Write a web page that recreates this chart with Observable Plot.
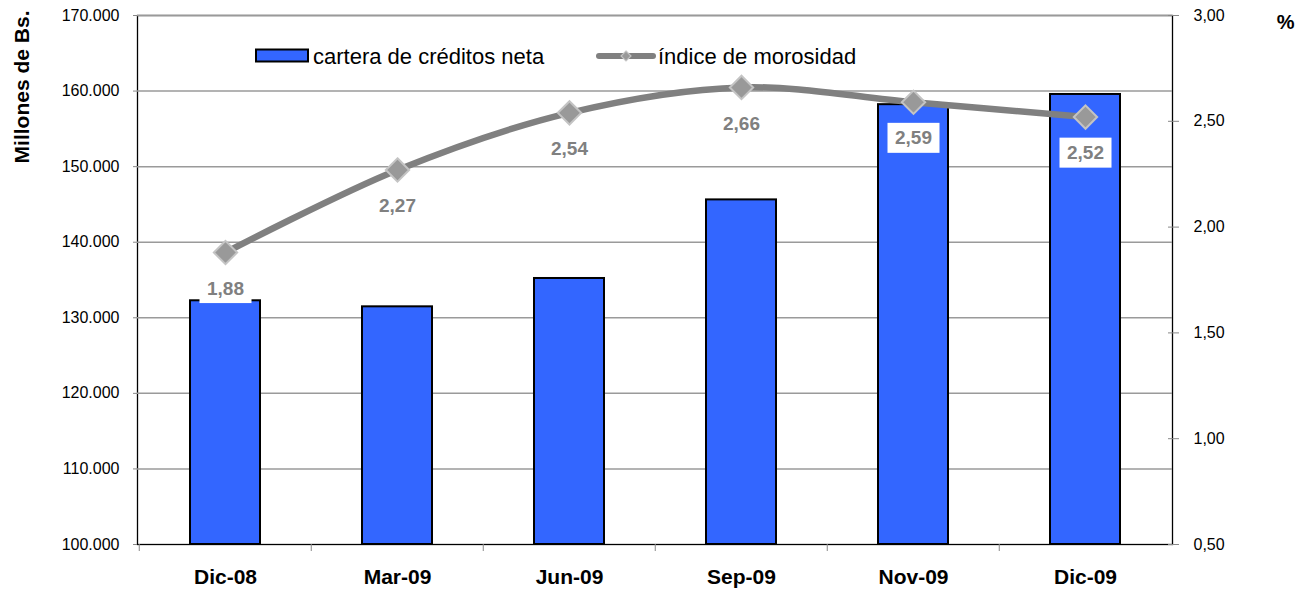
<!DOCTYPE html>
<html>
<head>
<meta charset="utf-8">
<script src="https://cdn.jsdelivr.net/npm/d3@7"></script>
<script src="https://cdn.jsdelivr.net/npm/@observablehq/plot@0.6"></script>
<style>
  html, body { margin: 0; padding: 0; background: #fff; }
  #wrap { position: relative; width: 1308px; height: 590px; font-family: "Liberation Sans", Arial, sans-serif; }
  .leg { position: absolute; font-size: 22px; color: #000; white-space: nowrap; line-height: 1; }
</style>
</head>
<body>
<div id="wrap"></div>
<script>
// ---- data ----
const periods = ["Dic-08", "Mar-09", "Jun-09", "Sep-09", "Nov-09", "Dic-09"];
const cartera = [132250, 131450, 135200, 145600, 158200, 159550];
const morosidad = [1.88, 2.27, 2.54, 2.66, 2.59, 2.52];
const leftTicks = [100000, 110000, 120000, 130000, 140000, 150000, 160000, 170000];
const rightTicks = [0.5, 1.0, 1.5, 2.0, 2.5, 3.0];
const seriesNames = ["cartera de créditos neta", "índice de morosidad"];

// secondary axis mapping (0,50–3,00 onto 100.000–170.000)
const toLeft = v => 100000 + (v - 0.5) * (70000 / 2.5);
const fromLeft = y => 0.5 + (y - 100000) * (2.5 / 70000);
const fmtThousands = d => d3.format(",")(d).replace(/,/g, ".");
const fmtDec = d => d3.format(".2f")(d).replace(".", ",");

const bars = periods.map((p, i) => ({ period: p, value: cartera[i] }));
const line = periods.map((p, i) => ({ period: p, value: morosidad[i], y: toLeft(morosidad[i]) }));

const FONT = "Liberation Sans, Arial, sans-serif";
const W = 1308, ML = 137, MR = 136;
const halfStep = (W - ML - MR) / periods.length / 2;

const chart = Plot.plot({
  width: W,
  height: 590,
  marginLeft: ML,
  marginRight: MR,
  marginTop: 15,
  marginBottom: 46,
  style: { fontFamily: FONT, background: "white", color: "#000" },
  x: { domain: periods, paddingInner: 0.594, paddingOuter: 0.297, axis: null },
  y: { domain: [100000, 170000], axis: null },
  marks: [
    Plot.frame({ stroke: "#000", strokeWidth: 1.3 }),
    Plot.ruleY(leftTicks.filter(d => d > 100000), { stroke: "#9a9a9a", strokeWidth: 1.5 }),
    // left axis
    Plot.axisY(leftTicks, {
      anchor: "left", tickSize: 4, tickPadding: 14, tickFormat: fmtThousands,
      fontSize: 16, stroke: "#888", label: null
    }),
    // right axis
    Plot.axisY(rightTicks.map(toLeft), {
      anchor: "right", tickSize: 6, tickPadding: 15, tickFormat: d => fmtDec(fromLeft(d)),
      fontSize: 16, stroke: "#888", label: null
    }),
    Plot.axisY(rightTicks.map(toLeft), {
      anchor: "right", tickSize: -5, text: null, stroke: "#888", label: null
    }),
    // x axis labels
    Plot.axisX(periods, {
      anchor: "bottom", tickSize: 0, tickPadding: 25, fontSize: 21, fontWeight: "bold", label: null
    }),
    // category boundary ticks
    Plot.axisX(periods, {
      anchor: "bottom", tickSize: 7, text: null, dx: -halfStep, stroke: "#888", label: null
    }),
    // bars
    Plot.barY(bars, {
      x: "period", y1: 100000, y2: "value",
      fill: "#3366FF", stroke: "#000", strokeWidth: 2
    }),
    // line
    Plot.line(line, {
      x: "period", y: "y", curve: "catmull-rom",
      stroke: "#808080", strokeWidth: 6.5
    }),
    Plot.dot(line, {
      x: "period", y: "y", symbol: "diamond2", r: 10.5,
      fill: "#999999", stroke: "#c4c4c4", strokeWidth: 2
    }),
    // value labels
    Plot.text(line, {
      x: "period", y: "y", text: d => fmtDec(d.value), dy: 36,
      fill: "#808080", fontWeight: "bold", fontSize: 19, className: "vlabel"
    }),
    // axis titles
    Plot.text(["Millones de Bs."], {
      frameAnchor: "top-left", rotate: -90, textAnchor: "end",
      dx: -123, dy: -5, fontSize: 21, fontWeight: "bold", fill: "#000"
    }),
    Plot.text(["%"], {
      frameAnchor: "top-right", dx: 122, dy: -1,
      fontSize: 20, fontWeight: "bold", fill: "#000"
    })
  ]
});

const wrap = document.getElementById("wrap");
wrap.appendChild(chart);

// white boxes behind the value labels
d3.select(chart).selectAll("g.vlabel text").each(function () {
  const b = this.getBBox();
  const w = 52, h = 30;
  const cx = b.x + b.width / 2, cy = b.y + b.height / 2;
  d3.select(this.parentNode).insert("rect", () => this)
    .attr("x", cx - w / 2).attr("y", cy - h / 2)
    .attr("width", w).attr("height", h)
    .attr("fill", "white")
    .attr("transform", this.getAttribute("transform"));
});

// legend
const leg1 = document.createElement("div");
leg1.className = "leg";
leg1.style.left = "255px"; leg1.style.top = "46px";
leg1.innerHTML = `<svg width="56" height="16" style="vertical-align:middle;margin-right:2px;position:relative;top:-2px"><rect x="1" y="1.5" width="52" height="12" fill="#3366FF" stroke="#000" stroke-width="2"/></svg>${seriesNames[0]}`;
wrap.appendChild(leg1);

const leg2 = document.createElement("div");
leg2.className = "leg";
leg2.style.left = "596px"; leg2.style.top = "46px";
leg2.innerHTML = `<svg width="62" height="16" style="vertical-align:middle;position:relative;top:-2px"><line x1="3" y1="8" x2="57" y2="8" stroke="#808080" stroke-width="6" stroke-linecap="round"/><path d="M30,3 L35,8 L30,13 L25,8 Z" fill="#999" stroke="#c4c4c4" stroke-width="1.2"/></svg>${seriesNames[1]}`;
wrap.appendChild(leg2);
</script>
</body>
</html>
